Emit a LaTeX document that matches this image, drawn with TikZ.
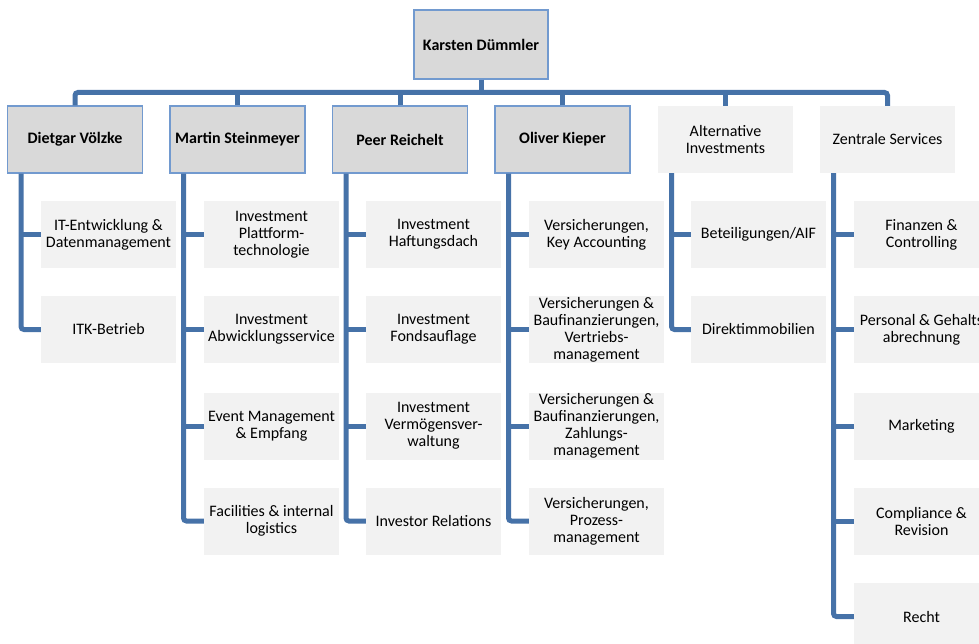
\documentclass[tikz,border=0pt]{standalone}
\usepackage{fontspec}
\setmainfont{Carlito}
\definecolor{conncol}{HTML}{4672A8}
\definecolor{bordcol}{HTML}{729ACF}
\definecolor{darkbox}{HTML}{D9D9D9}
\definecolor{lightbox}{HTML}{F2F2F2}
\tikzset{
  base/.style={inner sep=0pt, align=center, minimum width=135pt, minimum height=67pt,
    font=\fontsize{16}{17}\selectfont},
  headbox/.style={base, fill=darkbox, draw=bordcol, line width=1.3pt, font=\fontsize{16}{17}\selectfont\bfseries},
  groupbox/.style={base, fill=lightbox},
  childbox/.style={base, fill=lightbox},
  conn/.style={draw=conncol, line width=5pt, rounded corners=3pt}
}
\begin{document}
\begin{tikzpicture}[x=1pt,y=-1pt]
\useasboundingbox (0,0) rectangle (979,644);
\clip (0,0) rectangle (979,644);
% top
\node[headbox, minimum width=134pt, minimum height=69pt] (top) at (481,44.5) {Karsten Dümmler};
\coordinate (bus) at (0,92.5);
% level 2
\node[headbox] (a) at (75,139.5) {Dietgar Völzke};
\node[headbox] (b) at (237.5,139.5) {Martin Steinmeyer};
\node[headbox] (c) at (400,139.5) {Peer Reichelt};
\node[headbox] (d) at (562.5,139.5) {Oliver Kieper};
\node[groupbox] (e) at (725.5,139.5) {Alternative\\Investments};
\node[groupbox] (f) at (887.5,139.5) {Zentrale Services};
% children
\node[childbox] (a1) at (108.5,234.5) {IT-Entwicklung \&\\Datenmanagement};
\node[childbox] (a2) at (108.5,329.5) {ITK-Betrieb};

\node[childbox] (b1) at (271.5,234.5) {Investment\\Plattform-\\technologie};
\node[childbox] (b2) at (271.5,329.5) {Investment\\Abwicklungsservice};
\node[childbox] (b3) at (271.5,426) {Event Management\\\& Empfang};
\node[childbox] (b4) at (271.5,521) {Facilities \& internal\\logistics};

\node[childbox] (c1) at (433.5,234.5) {Investment\\Haftungsdach};
\node[childbox] (c2) at (433.5,329.5) {Investment\\Fondsauflage};
\node[childbox] (c3) at (433.5,426) {Investment\\Vermögensver-\\waltung};
\node[childbox] (c4) at (433.5,521) {Investor Relations};

\node[childbox] (d1) at (596.5,234.5) {Versicherungen,\\Key Accounting};
\node[childbox] (d2) at (596.5,329.5) {Versicherungen \&\\Baufinanzierungen,\\Vertriebs-\\management};
\node[childbox] (d3) at (596.5,426) {Versicherungen \&\\Baufinanzierungen,\\Zahlungs-\\management};
\node[childbox] (d4) at (596.5,521) {Versicherungen,\\Prozess-\\management};

\node[childbox] (e1) at (758.5,234.5) {Beteiligungen/AIF};
\node[childbox] (e2) at (758.5,329.5) {Direktimmobilien};

\node[childbox] (f1) at (921.5,234.5) {Finanzen \&\\Controlling};
\node[childbox] (f2) at (921.5,329.5) {Personal \& Gehalts\\abrechnung};
\node[childbox] (f3) at (921.5,426) {Marketing};
\node[childbox] (f4) at (921.5,521) {Compliance \&\\Revision};
\node[childbox] (f5) at (921.5,616.5) {Recht};

% bus connectors
\draw[conn] (top.south) -- (top.south |- bus);
\draw[conn] (a.north) -- (a.north |- bus) -| (f.north);
\foreach \p in {b,c,d,e} { \draw[conn, rounded corners=0pt] (\p.north) -- (\p.north |- bus); }

% child connectors
\draw[conn] ([xshift=-54pt]a.south) |- (a2.west);
\draw[conn] ([xshift=-54pt]a.south |- a1.west) -- (a1.west);

\draw[conn] ([xshift=-54pt]b.south) |- (b4.west);
\foreach \q in {b1,b2,b3} { \draw[conn] ([xshift=-54pt]b.south |- \q.west) -- (\q.west); }

\draw[conn] ([xshift=-54pt]c.south) |- (c4.west);
\foreach \q in {c1,c2,c3} { \draw[conn] ([xshift=-54pt]c.south |- \q.west) -- (\q.west); }

\draw[conn] ([xshift=-54pt]d.south) |- (d4.west);
\foreach \q in {d1,d2,d3} { \draw[conn] ([xshift=-54pt]d.south |- \q.west) -- (\q.west); }

\draw[conn] ([xshift=-54pt]e.south) |- (e2.west);
\draw[conn] ([xshift=-54pt]e.south |- e1.west) -- (e1.west);

\draw[conn] ([xshift=-54pt]f.south) |- (f5.west);
\foreach \q in {f1,f2,f3,f4} { \draw[conn] ([xshift=-54pt]f.south |- \q.west) -- (\q.west); }
\end{tikzpicture}
\end{document}
